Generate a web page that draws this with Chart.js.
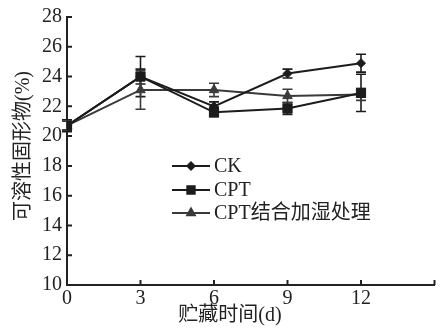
<!DOCTYPE html>
<html>
<head>
<meta charset="utf-8">
<script src="https://cdn.jsdelivr.net/npm/chart.js@4/dist/chart.umd.min.js"></script>
<style>
  html, body { margin: 0; padding: 0; background: #fff; }
  #wrap { width: 442px; height: 329px; position: relative; }
</style>
</head>
<body>
<div id="wrap"><canvas id="c" width="442" height="329"></canvas></div>
<script>
// Storage time (days)
const days = [0, 3, 6, 9, 12];

// Soluble solids (%) and standard errors per treatment
const ck      = [20.7, 24.0, 22.0, 24.2, 24.9];
const ckErr   = [0.3, 0.5, 0.3, 0.3, 0.6];
const cpt     = [20.7, 24.0, 21.6, 21.85, 22.9];
const cptErr  = [0.4, 1.35, 0.3, 0.4, 1.25];
const mix     = [20.7, 23.1, 23.1, 22.7, 22.8];
const mixErr  = [0.3, 1.3, 0.45, 0.45, 0.4];

const seriesNames = ['CK', 'CPT', 'CPT结合加湿处理'];
const xTicks = [0, 3, 6, 9, 12];

const SERIF = "'Liberation Serif', 'Noto Sans CJK SC', serif";
const INK = '#1c1c1c';

function pts(vals) { return days.map((d, i) => ({ x: d, y: vals[i] })); }

const datasets = [
  { label: seriesNames[0], data: pts(ck), err: ckErr, borderColor: INK, backgroundColor: INK,
    pointStyle: 'rectRot', pointRadius: 4.5, borderWidth: 2 },
  { label: seriesNames[1], data: pts(cpt), err: cptErr, borderColor: INK, backgroundColor: INK,
    pointStyle: 'rect', pointRadius: 6.5, borderWidth: 2 },
  { label: seriesNames[2], data: pts(mix), err: mixErr, borderColor: '#3a3a3a', backgroundColor: '#3a3a3a',
    pointStyle: 'triangle', pointRadius: 5.5, borderWidth: 2 }
].map(d => Object.assign(d, { tension: 0, fill: false, pointBorderWidth: 1, pointHoverRadius: d.pointRadius }));

// Vertical error bars with caps, drawn under the markers
const errorBars = {
  id: 'errorBars',
  beforeDatasetsDraw(chart) {
    const ctx = chart.ctx, ys = chart.scales.y, xs = chart.scales.x;
    ctx.save();
    ctx.lineWidth = 1.6;
    chart.data.datasets.forEach(ds => {
      ctx.strokeStyle = ds.borderColor;
      ds.data.forEach((p, i) => {
        const x = xs.getPixelForValue(p.x);
        const top = ys.getPixelForValue(p.y + ds.err[i]);
        const bot = ys.getPixelForValue(p.y - ds.err[i]);
        ctx.beginPath();
        ctx.moveTo(x, top); ctx.lineTo(x, bot);
        ctx.moveTo(x - 5, top); ctx.lineTo(x + 5, top);
        ctx.moveTo(x - 5, bot); ctx.lineTo(x + 5, bot);
        ctx.stroke();
      });
    });
    ctx.restore();
  }
};

// Inward tick marks, axis titles and the line-and-marker legend
const decor = {
  id: 'decor',
  afterDraw(chart) {
    const ctx = chart.ctx, xs = chart.scales.x, ys = chart.scales.y;
    const a = chart.chartArea;
    ctx.save();
    ctx.strokeStyle = '#222';
    ctx.lineWidth = 2;
    ctx.beginPath();
    ys.ticks.forEach(t => {
      const y = ys.getPixelForValue(t.value);
      ctx.moveTo(a.left, y); ctx.lineTo(a.left + 5, y);
    });
    xs.ticks.forEach(t => {
      const x = xs.getPixelForValue(t.value);
      ctx.moveTo(x, a.bottom); ctx.lineTo(x, a.bottom - 5);
    });
    ctx.stroke();

    ctx.fillStyle = '#222';
    ctx.font = '20px ' + SERIF;
    ctx.textAlign = 'center';
    ctx.textBaseline = 'middle';
    ctx.fillText('贮藏时间(d)', 230, 316);
    ctx.save();
    ctx.translate(24, 146);
    ctx.rotate(-Math.PI / 2);
    ctx.fillText('可溶性固形物(%)', 0, 0);
    ctx.restore();

    // legend
    const rows = [166, 190, 213];
    ctx.textAlign = 'left';
    chart.data.datasets.forEach((ds, i) => {
      const y = rows[i];
      ctx.strokeStyle = ds.borderColor;
      ctx.lineWidth = 2;
      ctx.beginPath(); ctx.moveTo(172, y); ctx.lineTo(210, y); ctx.stroke();
      ctx.fillStyle = ds.backgroundColor;
      Chart.helpers.drawPoint(ctx, {
        pointStyle: ds.pointStyle, radius: ds.pointRadius * 0.8, rotation: 0, borderWidth: 1
      }, 191, y);
      ctx.fillStyle = '#222';
      ctx.font = '20px ' + SERIF;
      ctx.fillText(ds.label, 214, y + 1);
    });
    ctx.restore();
  }
};

new Chart(document.getElementById('c'), {
  type: 'line',
  data: { datasets },
  plugins: [errorBars, decor],
  options: {
    responsive: false,
    animation: false,
    devicePixelRatio: 1,
    layout: { padding: { top: 16, right: 5, left: 0, bottom: 0 } },
    plugins: { legend: { display: false }, tooltip: { enabled: false } },
    scales: {
      x: {
        type: 'linear', min: 0, max: 15,
        afterFit(s) { s.height = 44; },
        afterBuildTicks(s) { s.ticks = [0, 3, 6, 9, 12, 15].map(v => ({ value: v })); },
        grid: { display: false, drawTicks: false },
        border: { display: true, color: '#222', width: 2 },
        ticks: {
          padding: 2, color: '#222', font: { family: SERIF, size: 20 },
          maxRotation: 0,
          callback: v => (xTicks.includes(v) ? String(v) : '')
        }
      },
      y: {
        min: 10, max: 28,
        afterFit(s) { s.width = 67; },
        grid: { display: false, drawTicks: false },
        border: { display: true, color: '#222', width: 2 },
        ticks: { stepSize: 2, padding: 5, color: '#222', font: { family: SERIF, size: 20 } }
      }
    }
  }
});
</script>
</body>
</html>
